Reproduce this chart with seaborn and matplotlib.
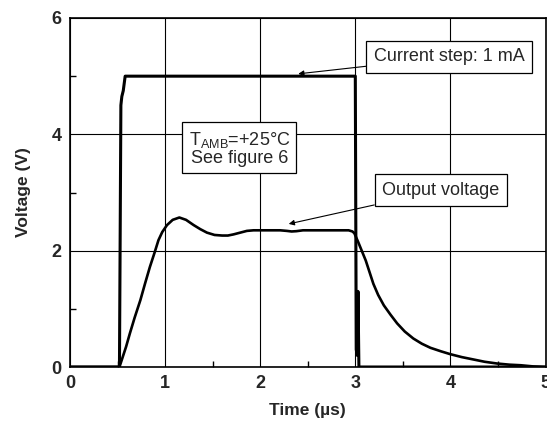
import matplotlib
matplotlib.use("Agg")
import matplotlib.pyplot as plt
import seaborn as sns
import pandas as pd
from matplotlib.ticker import MultipleLocator

# Data
step_t = [0.0, 0.52, 0.535, 0.545, 0.56, 0.58, 3.0, 3.01, 3.02, 3.028, 3.038, 5.0]
step_v = [0.0, 0.0, 4.5, 4.65, 4.75, 5.0, 5.0, 0.3, 0.2, 1.3, 0.0, 0.0]

out_t = [0.0, 0.52, 0.55, 0.59, 0.63, 0.68, 0.74, 0.79, 0.84, 0.89, 0.93, 0.97,
         1.02, 1.08, 1.15, 1.22, 1.30, 1.37, 1.44, 1.52, 1.60, 1.66, 1.72,
         1.79, 1.86, 1.93, 2.0, 2.1, 2.21, 2.28, 2.33, 2.38, 2.45, 2.6, 2.8,
         2.93, 2.97, 2.99, 3.03, 3.07, 3.11, 3.15, 3.19, 3.24, 3.30, 3.37,
         3.44, 3.52, 3.61, 3.70, 3.79, 3.90, 4.0, 4.12, 4.24, 4.36, 4.49,
         4.62, 4.74, 4.87, 5.0]
out_v = [0.0, 0.0, 0.15, 0.35, 0.58, 0.85, 1.15, 1.44, 1.72, 1.97, 2.18, 2.32,
         2.44, 2.53, 2.57, 2.53, 2.44, 2.37, 2.31, 2.27, 2.26, 2.26, 2.28,
         2.31, 2.34, 2.35, 2.35, 2.35, 2.35, 2.34, 2.33, 2.335, 2.35, 2.35, 2.35,
         2.35, 2.33, 2.3, 2.15, 1.99, 1.83, 1.63, 1.43, 1.24, 1.06, 0.90,
         0.75, 0.61, 0.49, 0.40, 0.33, 0.27, 0.22, 0.17, 0.13, 0.09, 0.06,
         0.04, 0.03, 0.01, 0.0]

x_ticks = [0, 1, 2, 3, 4, 5]
y_ticks = [0, 2, 4, 6]

sns.set_style("white")
plt.rcParams['font.family'] = ['Liberation Sans', 'DejaVu Sans']
plt.rcParams['mathtext.fontset'] = 'custom'
plt.rcParams['mathtext.rm'] = 'Liberation Sans'

df = pd.concat([
    pd.DataFrame({"t": step_t, "v": step_v, "s": "Current step"}),
    pd.DataFrame({"t": out_t, "v": out_v, "s": "Output voltage"}),
])

fig = plt.figure(figsize=(5.47, 4.28), dpi=100)
ax = fig.add_axes([70/547, 61/428, (545.5-70)/547, (367-18)/428])

sns.lineplot(data=df[df.s == "Current step"], x="t", y="v", color="black",
             linewidth=2.2, ax=ax, sort=False, estimator=None, legend=False)
sns.lineplot(data=df[df.s == "Output voltage"], x="t", y="v", color="black",
             linewidth=1.9, ax=ax, sort=False, estimator=None, legend=False)

ax.set_xlim(0, 5)
ax.set_ylim(0, 6)
ax.set_xticks(x_ticks)
ax.set_yticks(y_ticks)
ax.xaxis.set_minor_locator(MultipleLocator(0.5))
ax.yaxis.set_minor_locator(MultipleLocator(1))
ax.grid(True, which='major', color='black', linewidth=0.8)
ax.tick_params(which='major', direction='out', length=4, width=1, color='black',
               labelsize=13, pad=2)
ax.tick_params(which='minor', direction='in', length=4, width=1, color='black')
ax.tick_params(axis='x', which='minor', bottom=True)
ax.tick_params(axis='y', which='minor', left=True)
for lab in ax.get_xticklabels() + ax.get_yticklabels():
    lab.set_fontweight('bold')
for sp in ax.spines.values():
    sp.set_color('black')
    sp.set_linewidth(1.2)

ax.set_xlabel("Time (µs)", fontsize=12.5, fontweight='bold', labelpad=8)
ax.set_ylabel("Voltage (V)", fontsize=12.5, fontweight='bold', labelpad=15)

bbox = dict(boxstyle='square,pad=0.42', fc='white', ec='black', lw=0.9)
arrow = dict(arrowstyle='-|>', color='black', lw=0.8, mutation_scale=8, shrinkA=0, shrinkB=0)

ax.annotate("Current step: 1 mA", xy=(2.4, 5.04), xytext=(3.99, 5.33),
            fontsize=13, ha='center', va='center', bbox=bbox, arrowprops=arrow)
ax.annotate("Output voltage", xy=(2.3, 2.46), xytext=(3.9, 3.04),
            fontsize=13, ha='center', va='center', bbox=bbox, arrowprops=arrow)
ax.text(1.78, 3.76, "T$_{\\mathrm{AMB}}$=+25°C\nSee figure 6", fontsize=13,
        ha='center', va='center', bbox=dict(boxstyle='square,pad=0.35', fc='white',
                                            ec='black', lw=0.9), linespacing=1.0)

fig.savefig("out.png", dpi=100)
